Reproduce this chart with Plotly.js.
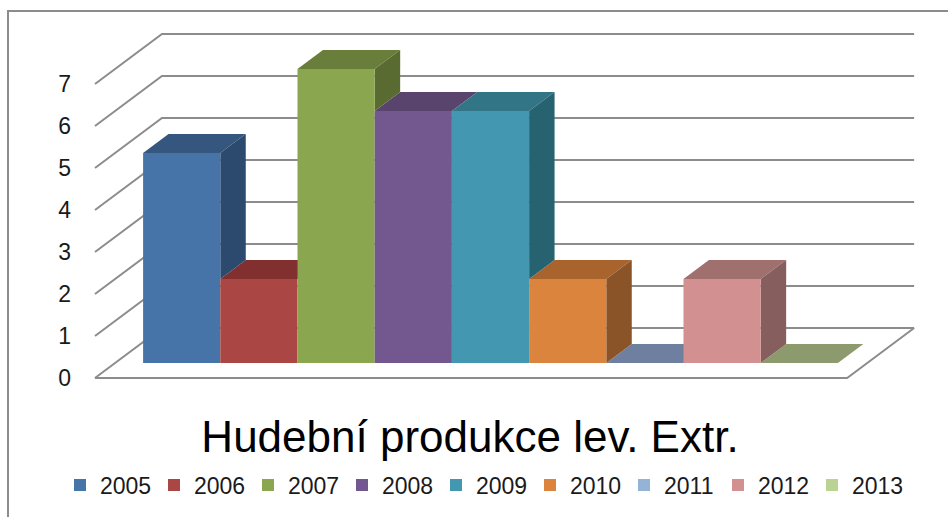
<!DOCTYPE html>
<html>
<head>
<meta charset="utf-8">
<script src="https://cdn.plot.ly/plotly-3.0.1.min.js"></script>
<style>
  html, body { margin: 0; padding: 0; background: #ffffff; overflow: hidden; }
  #frame { position: absolute; left: 7px; top: 10px; width: 2000px; height: 2000px;
           border: 2px solid #8c8c8c; box-sizing: border-box; }
  #chart { position: absolute; left: 0; top: 0; width: 948px; height: 517px; }
</style>
</head>
<body>
<div id="frame"></div>
<div id="chart"></div>
<script>
// ---- data ----
const years = ['2005', '2006', '2007', '2008', '2009', '2010', '2011', '2012', '2013'];
const values = [5, 2, 7, 6, 6, 2, 0, 2, 0];
const yTicks = [0, 1, 2, 3, 4, 5, 6, 7];
const chartTitle = 'Hudební produkce lev. Extr.';

// ---- styles ----
const frontColors = ['#4673a8', '#aa4644', '#8aa64f', '#73588f', '#4397b0', '#db843e', '#95b3d7', '#d29190', '#bad395'];
const topColors   = ['#35577f', '#812f2f', '#6a7e3b', '#59446d', '#327587', '#a9642e', '#6e7fa0', '#a0706f', '#8c9a6e'];
const sideColors  = ['#2c4a6d', '#6e2a29', '#5a6b32', '#4b3a5d', '#276270', '#8b5328', '#5d6b87', '#855e5d', '#77845d'];
const gridColor = '#8c8c8c';
const FONT = 'Liberation Sans, Arial, sans-serif';

// ---- oblique projection (layout geometry) ----
const PX = 77.2, PY = 42, OX = 123, OY = 378;   // pixel scale / origin of front plane
const DEP_X = 67 / PX, DEP_Y = 50 / PY;         // full depth offset in axis units
const D_FRONT = 0.3, D_BACK = 0.68;             // bar depth band
const FLOOR_X0 = -0.363, FLOOR_X1 = 9.38;
const W = 948, H = 517, ML = 80;
function P(xu, v, d) { return [xu + DEP_X * d, v + DEP_Y * d]; }

const xRange = [(ML - OX) / PX, (W - OX) / PX];
const yRange = [(OY - H) / PY, OY / PY];

const traces = [];

// back wall gridlines + left wall diagonals + floor edges
(function () {
  const xs = [], ys = [];
  yTicks.forEach(v => {
    [[FLOOR_X0, v, 0], [FLOOR_X0, v, 1], [FLOOR_X1, v, 1]].forEach(p => {
      const q = P(p[0], p[1], p[2]); xs.push(q[0]); ys.push(q[1]);
    });
    xs.push(null); ys.push(null);
  });
  [[FLOOR_X0, 0, 0], [FLOOR_X1, 0, 0], [FLOOR_X1, 0, 1]].forEach(p => {
    const q = P(p[0], p[1], p[2]); xs.push(q[0]); ys.push(q[1]);
  });
  traces.push({ type: 'scatter', mode: 'lines', x: xs, y: ys, xaxis: 'x', yaxis: 'y',
    line: { color: gridColor, width: 2 }, showlegend: false, hoverinfo: 'skip', connectgaps: false });
})();

function poly(pts) {
  const q = pts.map(p => P(p[0], p[1], p[2]));
  q.push(q[0]);
  return { x: q.map(a => a[0]), y: q.map(a => a[1]) };
}

// top faces
values.forEach((v, i) => {
  const pg = poly([[i, v, D_FRONT], [i + 1, v, D_FRONT], [i + 1, v, D_BACK], [i, v, D_BACK]]);
  traces.push({ type: 'scatter', mode: 'none', fill: 'toself', fillcolor: topColors[i],
    x: pg.x, y: pg.y, xaxis: 'x', yaxis: 'y', showlegend: false, hoverinfo: 'skip' });
});

// right side faces (only the part not hidden by the next bar)
values.forEach((v, i) => {
  const lo = i < values.length - 1 ? Math.min(values[i + 1], v) : 0;
  if (v <= lo) return;
  const pg = poly([[i + 1, lo, D_FRONT], [i + 1, v, D_FRONT], [i + 1, v, D_BACK], [i + 1, lo, D_BACK]]);
  traces.push({ type: 'scatter', mode: 'none', fill: 'toself', fillcolor: sideColors[i],
    x: pg.x, y: pg.y, xaxis: 'x', yaxis: 'y', showlegend: false, hoverinfo: 'skip' });
});

// front faces: real bars, one trace per year (legend)
values.forEach((v, i) => {
  traces.push({ type: 'bar', name: years[i], x: [i + 0.5 + DEP_X * D_FRONT], y: [v],
    base: [DEP_Y * D_FRONT], width: [1], xaxis: 'x2', yaxis: 'y2',
    marker: { color: frontColors[i], line: { width: 0 } } });
});

const hidden = { showgrid: false, zeroline: false, showline: false, ticks: '', showticklabels: false, fixedrange: true };

const layout = {
  width: W, height: H,
  margin: { l: ML, r: 0, t: 0, b: 0, pad: 0, autoexpand: false },
  paper_bgcolor: 'rgba(0,0,0,0)', plot_bgcolor: 'rgba(0,0,0,0)',
  barmode: 'overlay',
  title: { text: chartTitle, font: { family: FONT, size: 44, color: '#000000' },
           xref: 'container', yref: 'container', x: 470 / W, xanchor: 'center', y: 1 - 437 / H, yanchor: 'middle' },
  xaxis: Object.assign({}, hidden, { range: xRange }),
  yaxis: Object.assign({}, hidden, { range: yRange, showticklabels: true, tickmode: 'array',
    tickvals: yTicks, ticktext: yTicks.map(String), ticklabelstandoff: 8,
    tickfont: { family: FONT, size: 23, color: '#1a1a1a' } }),
  xaxis2: Object.assign({}, hidden, { range: xRange, overlaying: 'x', anchor: 'y2' }),
  yaxis2: Object.assign({}, hidden, { range: yRange, overlaying: 'y', anchor: 'x2' }),
  showlegend: true,
  legend: { orientation: 'h', xref: 'container', yref: 'container', x: 60 / W, xanchor: 'left',
    y: 1 - 485 / H, yanchor: 'middle',
    font: { family: FONT, size: 23, color: '#1a1a1a' }, entrywidth: 49, entrywidthmode: 'pixels',
    bgcolor: 'rgba(0,0,0,0)', borderwidth: 0, traceorder: 'normal' }
};

Plotly.newPlot('chart', traces, layout, { staticPlot: true, displayModeBar: false });
</script>
</body>
</html>
